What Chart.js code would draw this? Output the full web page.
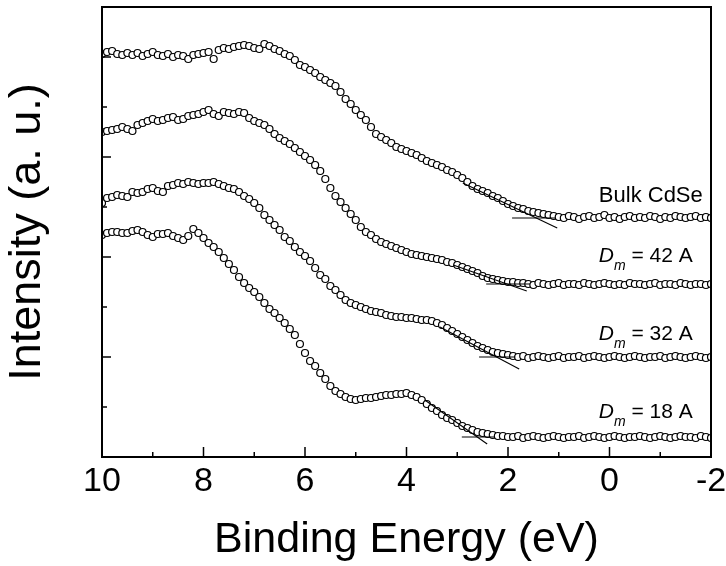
<!DOCTYPE html>
<html>
<head>
<meta charset="utf-8">
<script src="https://cdn.jsdelivr.net/npm/chart.js@4.4.1/dist/chart.umd.min.js"></script>
<style>
  html, body { margin: 0; padding: 0; background: #fff; }
  #wrap { width: 726px; height: 566px; }
</style>
</head>
<body>
<div id="wrap"><canvas id="pesChart"></canvas></div>
<script>
// Binding energy grid (eV), shared by every spectrum
const energies = [
  10.0, 9.9, 9.8, 9.7, 9.6, 9.5, 9.4, 9.3, 9.2, 9.1,
  9.0, 8.9, 8.8, 8.7, 8.6, 8.5, 8.4, 8.3, 8.2, 8.1,
  8.0, 7.9, 7.8, 7.7, 7.6, 7.5, 7.4, 7.3, 7.2, 7.1,
  7.0, 6.9, 6.8, 6.7, 6.6, 6.5, 6.4, 6.3, 6.2, 6.1,
  6.0, 5.9, 5.8, 5.7, 5.6, 5.5, 5.4, 5.3, 5.2, 5.1,
  5.0, 4.9, 4.8, 4.7, 4.6, 4.5, 4.4, 4.3, 4.2, 4.1,
  4.0, 3.9, 3.8, 3.7, 3.6, 3.5, 3.4, 3.3, 3.2, 3.1,
  3.0, 2.9, 2.8, 2.7, 2.6, 2.5, 2.4, 2.3, 2.2, 2.1,
  2.0, 1.9, 1.8, 1.7, 1.6, 1.5, 1.4, 1.3, 1.2, 1.1,
  1.0, 0.9, 0.8, 0.7, 0.6, 0.5, 0.4, 0.3, 0.2, 0.1,
  0.0, -0.1, -0.2, -0.3, -0.4, -0.5, -0.6, -0.7, -0.8, -0.9,
  -1.0, -1.1, -1.2, -1.3, -1.4, -1.5, -1.6, -1.7, -1.8, -1.9,
  -2.0
];

// Valence band spectra, offset vertically (a. u.)
const bulk = [
  403, 405, 406, 403, 402, 404, 402, 404, 401, 403,
  405, 402, 401, 403, 400, 402, 401, 398, 402, 403,
  404, 405, 398, 407, 409, 408, 410, 411, 412, 411,
  409, 408, 413, 411, 408, 406, 403, 401, 397, 392,
  390, 387, 384, 380, 377, 374, 371, 365, 358, 353,
  347, 342, 337, 330, 323, 320, 317, 314, 310, 308,
  306, 304, 302, 299, 296, 294, 292, 290, 287, 285,
  282, 279, 275, 271, 268, 266, 264, 261, 259, 256,
  253, 251, 249, 248, 246, 245, 244, 243, 242, 241,
  240, 239, 241, 240, 238, 240, 241, 239, 240, 242,
  239, 240, 238, 240, 241, 239, 240, 239, 241, 240,
  238, 240, 239, 241, 240, 239, 240, 241, 239, 240,
  239
];
const dm42 = [
  325, 326, 327, 328, 330, 328, 326, 332, 334, 336,
  338, 336, 337, 339, 340, 337, 338, 341, 342, 343,
  345, 347, 343, 341, 345, 344, 343, 345, 344, 339,
  336, 334, 332, 328, 323, 319, 316, 313, 309, 305,
  301, 297, 292, 286, 278, 269, 261, 255, 249, 243,
  237, 230, 225, 222, 218, 215, 213, 211, 209, 207,
  205, 203, 202, 201, 200, 199, 198, 197, 195, 194,
  192, 190, 188, 186, 184, 181, 179, 178, 177, 176,
  175, 175, 174, 174, 173, 172, 174, 173, 172, 173,
  174, 172, 173, 173, 172, 174, 173, 172, 173, 174,
  173, 172, 173, 172, 174, 173, 173, 172, 173, 174,
  172, 173, 173, 172, 174, 173, 172, 173, 173, 172,
  173
];
const dm32 = [
  254, 259, 260, 262, 261, 260, 265, 264, 265, 268,
  269, 266, 265, 271, 272, 274, 273, 275, 274, 273,
  274, 274, 275, 273, 271, 269, 268, 265, 261, 258,
  254, 249, 242, 237, 232, 227, 220, 216, 210, 205,
  201, 196, 189, 182, 178, 171, 167, 162, 157, 154,
  152, 150, 148, 146, 145, 144, 142, 141, 140, 140,
  139, 139, 138, 137, 137, 136, 134, 132, 129, 126,
  123, 120, 117, 114, 111, 109, 107, 105, 104, 103,
  102, 101, 100, 101, 99, 100, 101, 100, 99, 100,
  101, 99, 100, 100, 101, 99, 100, 101, 100, 99,
  100, 101, 100, 99, 100, 101, 100, 99, 100, 100,
  101, 99, 100, 101, 100, 99, 100, 101, 100, 99,
  100
];
const dm18 = [
  222, 224, 225, 225, 224, 224, 226, 227, 225, 222,
  220, 223, 223, 224, 221, 219, 217, 221, 228, 224,
  219, 214, 210, 205, 199, 193, 187, 180, 174, 169,
  165, 160, 154, 148, 144, 139, 134, 128, 122, 113,
  104, 96, 91, 84, 78, 71, 66, 63, 60, 58,
  57, 58, 59, 59, 60, 61, 62, 62, 63, 63,
  64, 62, 60, 57, 53, 49, 46, 42, 39, 37,
  34, 31, 29, 27, 25, 24, 23, 22, 21, 21,
  20, 20, 21, 19, 20, 21, 20, 19, 20, 21,
  20, 19, 20, 20, 21, 19, 20, 21, 20, 19,
  20, 21, 20, 19, 20, 20, 21, 20, 19, 20,
  21, 20, 19, 20, 21, 20, 20, 19, 21, 20,
  19
];

// Onset construction: flat background line + leading-edge tangent
const bulkBase = [{ x: 1.92, y: 239 }, { x: 1.07, y: 239 }];
const bulkEdge = [{ x: 2.89, y: 274 }, { x: 1.03, y: 229 }];
const dm42Base = [{ x: 2.43, y: 173 }, { x: 1.57, y: 173 }];
const dm42Edge = [{ x: 3.08, y: 192 }, { x: 1.63, y: 166 }];
const dm32Base = [{ x: 2.57, y: 100 }, { x: 1.86, y: 100 }];
const dm32Edge = [{ x: 3.34, y: 130 }, { x: 1.78, y: 88 }];
const dm18Base = [{ x: 2.91, y: 20 }, { x: 2.26, y: 20 }];
const dm18Edge = [{ x: 3.64, y: 57 }, { x: 2.41, y: 13 }];

// Curve annotations (anchor = left end of text, baseline)
const labelText = ['Bulk CdSe', '= 42 A', '= 32 A', '= 18 A'];
const labelX = [0.21, 0.21, 0.21, 0.21];
const labelY = [255, 195, 117, 39];

const FONT = '"Liberation Sans", Arial, Helvetica, sans-serif';
Chart.defaults.font.family = FONT;
Chart.defaults.color = '#000';

function spectrum(data) {
    return {
        data: data,
        showLine: false,
        pointStyle: 'circle',
        pointRadius: 3.5,
        pointBorderWidth: 1.2,
        pointBorderColor: '#000',
        pointBackgroundColor: '#fff',
        order: 1,
    };
}

function guide(data) {
    return {
        data: data,
        borderColor: '#000',
        borderWidth: 1.1,
        pointRadius: 0,
        order: 0,
    };
}

// Box frame with inward tick marks
const frameTicks = {
    id: 'frameTicks',
    afterDatasetsDraw(chart) {
        const { ctx, chartArea: a, scales: { x, y } } = chart;
        ctx.save();
        ctx.strokeStyle = '#000';
        ctx.lineWidth = 1.5;
        ctx.beginPath();
        for (let e = -2; e <= 10; e += 1) {
            const px = x.getPixelForValue(e);
            const len = e % 2 === 0 ? 10 : 5;
            ctx.moveTo(px, a.bottom);
            ctx.lineTo(px, a.bottom - len);
        }
        for (let v = 50; v < 450; v += 50) {
            const py = y.getPixelForValue(v);
            const len = v % 100 === 0 ? 9 : 5;
            ctx.moveTo(a.left, py);
            ctx.lineTo(a.left + len, py);
        }
        ctx.stroke();
        ctx.lineWidth = 2;
        ctx.strokeRect(a.left, a.top, a.right - a.left, a.bottom - a.top);
        ctx.restore();
    }
};

// Sample labels, D_m drawn italic with subscript
const curveLabels = {
    id: 'curveLabels',
    afterDatasetsDraw(chart) {
        const { ctx, scales: { x, y } } = chart;
        ctx.save();
        ctx.fillStyle = '#000';
        ctx.textBaseline = 'alphabetic';
        ctx.textAlign = 'left';
        labelText.forEach((t, i) => {
            let px = x.getPixelForValue(labelX[i]);
            const py = y.getPixelForValue(labelY[i]);
            if (!t.startsWith('=')) {
                ctx.font = '22px ' + FONT;
                ctx.fillText(t, px, py);
                return;
            }
            ctx.font = 'italic 21px ' + FONT;
            ctx.fillText('D', px, py);
            px += ctx.measureText('D').width;
            ctx.font = 'italic 14px ' + FONT;
            ctx.fillText('m', px, py + 8);
            px += ctx.measureText('m').width;
            ctx.font = '21px ' + FONT;
            ctx.fillText(' ' + t, px, py);
        });
        ctx.restore();
    }
};

new Chart(document.getElementById('pesChart'), {
    type: 'line',
    data: {
        labels: energies,
        datasets: [
            guide(bulkBase), guide(bulkEdge),
            guide(dm42Base), guide(dm42Edge),
            guide(dm32Base), guide(dm32Edge),
            guide(dm18Base), guide(dm18Edge),
            spectrum(bulk),
            spectrum(dm42),
            spectrum(dm32),
            spectrum(dm18),
        ]
    },
    options: {
        responsive: true,
        maintainAspectRatio: false,
        animation: false,
        devicePixelRatio: 1,
        layout: {
            padding: { top: 7, right: 15, bottom: 0, left: 0 }
        },
        plugins: {
            legend: { display: false },
            tooltip: { enabled: false },
        },
        scales: {
            x: {
                type: 'linear',
                reverse: true,
                min: -2,
                max: 10,
                grid: { display: false },
                border: { display: false },
                ticks: {
                    stepSize: 2,
                    color: '#000',
                    padding: -4,
                    maxRotation: 0,
                    autoSkip: false,
                    font: { size: 34 },
                },
                title: {
                    display: true,
                    text: 'Binding Energy (eV)',
                    color: '#000',
                    font: { size: 43 },
                    padding: { top: 0, bottom: 0 },
                },
                afterFit(scale) {
                    scale.height = 109;
                    scale.paddingLeft = 0;
                    scale.paddingRight = 0;
                }
            },
            y: {
                min: 0,
                max: 450,
                grid: { display: false },
                border: { display: false },
                ticks: { display: false, stepSize: 50 },
                title: {
                    display: true,
                    text: 'Intensity (a. u.)',
                    color: '#000',
                    font: { size: 45 },
                    padding: { top: 1, bottom: 0 },
                },
                afterFit(scale) {
                    scale.width = 102;
                    scale.paddingTop = 0;
                    scale.paddingBottom = 0;
                }
            }
        }
    },
    plugins: [frameTicks, curveLabels]
});
</script>
</body>
</html>
